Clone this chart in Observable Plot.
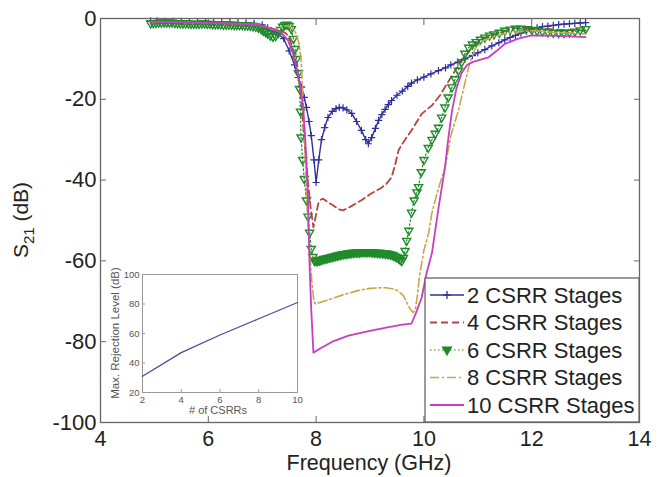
<!DOCTYPE html>
<html><head><meta charset="utf-8">
<script src="https://cdn.jsdelivr.net/npm/d3@7"></script>
<script src="https://cdn.jsdelivr.net/npm/@observablehq/plot@0.6"></script>
<style>
html,body{margin:0;padding:0;background:#fff;}
#wrap{position:relative;width:663px;height:477px;overflow:hidden;background:#fff;}
#wrap svg{position:absolute;}
</style></head><body><div id="wrap"></div>
<script>
// ---- data ----
const seriesNames = ["2 CSRR Stages", "4 CSRR Stages", "6 CSRR Stages", "8 CSRR Stages", "10 CSRR Stages"];
const xTicks = [4, 6, 8, 10, 12, 14];
const yTicks = [-100, -80, -60, -40, -20, 0];

const s21Stages2 = [[4.93,-0.6],[5.05,-0.6],[5.2,-0.7],[5.35,-0.7],[5.5,-0.7],[5.65,-0.8],[5.8,-0.8],[5.95,-0.8],[6.1,-0.9],[6.25,-0.9],
 [6.4,-1.0],[6.55,-1.0],[6.7,-1.1],[6.85,-1.2],[7.0,-1.6],[7.1,-2.3],[7.17,-3.0],[7.25,-3.4],[7.3,-3.8],[7.4,-5.0],
 [7.5,-8.0],[7.6,-11.5],[7.67,-14.6],[7.73,-17],[7.78,-19.5],[7.82,-22],[7.87,-25.5],[7.91,-29],[7.96,-35],[8.0,-40.6],
 [8.05,-35],[8.1,-30],[8.16,-27],[8.22,-24.5],[8.3,-23],[8.37,-22.3],[8.43,-22],[8.5,-22.1],[8.57,-22.6],[8.66,-23.5],
 [8.75,-25.5],[8.84,-27.7],[8.92,-30],[8.97,-31],[9.03,-29.5],[9.1,-27.2],[9.16,-25.2],[9.22,-23.8],[9.28,-22.5],[9.34,-21.3],
 [9.4,-20.3],[9.5,-19],[9.6,-18],[9.7,-16.8],[9.77,-16],[9.88,-15.2],[10.0,-14.5],[10.13,-13.7],[10.27,-12.9],[10.4,-12.2],
 [10.5,-11.5],[10.63,-10.8],[10.76,-10],[10.9,-9.2],[11.0,-8.5],[11.13,-7.7],[11.26,-6.8],[11.39,-6],[11.5,-5.3],[11.6,-4.7],
 [11.7,-4.2],[11.8,-3.6],[11.9,-3.1],[12.0,-2.6],[12.1,-2.3],[12.2,-2.0],[12.3,-1.9],[12.4,-1.7],[12.5,-1.5],[12.6,-1.4],
 [12.7,-1.3],[12.8,-1.2],[12.9,-1.1],[13.0,-1.0]];

const s21Stages4 = [[4.93,-0.8],[5.2,-0.9],[5.5,-1],[5.8,-1],[6.1,-1.1],[6.4,-1.2],[6.7,-1.3],[6.9,-1.4],[7.05,-2],[7.15,-2.7],
 [7.25,-3],[7.35,-3],[7.45,-3.8],[7.52,-5.5],[7.6,-9],[7.66,-13],[7.7,-17],[7.74,-23],[7.78,-30],[7.82,-36],
 [7.86,-42],[7.9,-47],[7.95,-51.7],[8.0,-48.5],[8.04,-45.8],[8.09,-44.8],[8.13,-44.6],[8.22,-45.5],[8.32,-46.3],[8.42,-47.2],
 [8.5,-47.5],[8.65,-46.5],[8.84,-45],[9.0,-43.5],[9.2,-42],[9.3,-41],[9.4,-39.3],[9.47,-36],[9.53,-32.6],[9.65,-30],
 [9.77,-27.7],[9.96,-23.6],[10.15,-21.5],[10.3,-19],[10.5,-14.6],[10.7,-10.5],[10.9,-7],[11.1,-5],[11.4,-3.5],[11.7,-2.4],
 [12.0,-2.3],[12.5,-2.8],[13.0,-3.0]];

const s21Stages6 = [[4.93,-1.2],[4.98,-1.1],[5.03,-1.1],[5.08,-1],[5.13,-1],[5.18,-1],[5.23,-1],[5.28,-1],[5.33,-1],[5.38,-1.1],
 [5.43,-1.1],[5.48,-1.2],[5.53,-1.2],[5.58,-1.2],[5.63,-1.2],[5.68,-1.3],[5.73,-1.3],[5.78,-1.3],[5.83,-1.3],[5.88,-1.2],
 [5.93,-1.2],[5.98,-1.3],[6.03,-1.3],[6.08,-1.4],[6.13,-1.4],[6.18,-1.4],[6.23,-1.4],[6.28,-1.5],[6.33,-1.5],[6.38,-1.5],
 [6.43,-1.5],[6.48,-1.6],[6.53,-1.6],[6.58,-1.6],[6.63,-1.6],[6.68,-1.7],[6.73,-1.7],[6.78,-1.8],[6.83,-1.9],[6.88,-2.0],
 [6.93,-2.3],[6.98,-2.6],[7.02,-3.0],[7.06,-3.3],[7.1,-3.7],[7.15,-4.2],[7.2,-4.5],[7.25,-4.3],[7.3,-3.6],[7.34,-2.8],
 [7.38,-2],[7.42,-1.6],[7.46,-1.5],[7.5,-1.8],[7.54,-2.6],[7.58,-5],[7.61,-7.5],[7.64,-10],[7.67,-13.5],[7.69,-17.4],
 [7.71,-23],[7.72,-29.4],[7.75,-35],[7.78,-39.7],[7.82,-45],[7.85,-49],[7.88,-53],[7.91,-57],[7.94,-59],[7.97,-60],
 [8.0,-60],[8.03,-60],[8.06,-59.9],[8.09,-59.8],[8.12,-59.6],[8.15,-59.5],[8.18,-59.4],[8.21,-59.3],[8.24,-59.2],[8.27,-59.1],
 [8.3,-59],[8.33,-58.9],[8.36,-58.8],[8.39,-58.7],[8.42,-58.6],[8.45,-58.5],[8.48,-58.4],[8.51,-58.3],[8.54,-58.3],[8.57,-58.2],
 [8.6,-58.1],[8.63,-58.1],[8.66,-58],[8.69,-58],[8.72,-57.9],[8.75,-57.9],[8.78,-57.9],[8.81,-57.9],[8.84,-57.8],[8.87,-57.8],
 [8.9,-57.8],[8.93,-57.8],[8.96,-57.8],[8.99,-57.8],[9.02,-57.8],[9.05,-57.9],[9.08,-57.9],[9.11,-57.9],[9.14,-58],[9.17,-58],
 [9.2,-58],[9.23,-58.1],[9.26,-58.1],[9.29,-58.2],[9.32,-58.2],[9.35,-58.3],[9.38,-58.4],[9.41,-58.5],[9.44,-58.7],[9.47,-58.9],
 [9.5,-59.1],[9.53,-59.4],[9.56,-59.7],[9.59,-60],[9.62,-59.2],[9.65,-57.5],[9.68,-55],[9.72,-52.5],[9.77,-48],[9.82,-45],
 [9.87,-43],[9.9,-41.7],[9.95,-38],[10.0,-35],[10.08,-32],[10.15,-30],[10.21,-28.5],[10.27,-27],[10.33,-24.5],[10.39,-22],
 [10.45,-19.5],[10.52,-17],[10.58,-15],[10.64,-12.9],[10.7,-10.8],[10.76,-8.7],[10.83,-7.2],[10.9,-6.4],[10.97,-5.8],[11.05,-5.2],
 [11.13,-4.7],[11.22,-4.2],[11.3,-3.9],[11.4,-3.5],[11.5,-3],[11.6,-2.7],[11.7,-2.5],[11.8,-2.5],[11.9,-2.6],[12.0,-2.8],
 [12.1,-3],[12.2,-3.2],[12.3,-3.4],[12.4,-3.5],[12.5,-3.6],[12.6,-3.6],[12.7,-3.4],[12.8,-3.2],[12.9,-2.9],[13.0,-2.6]];

const s21Stages8 = [[4.93,-0.8],[5.3,-0.9],[5.7,-1],[6.1,-1.1],[6.5,-1.3],[6.9,-1.5],[7.05,-2],[7.15,-2.5],[7.22,-2.8],[7.32,-2.3],
 [7.45,-1.8],[7.55,-2.2],[7.62,-3.5],[7.68,-6],[7.72,-10],[7.76,-20],[7.8,-35],[7.84,-48],[7.88,-58],[7.92,-65],
 [7.95,-69],[7.98,-70.6],[8.1,-70.2],[8.3,-69.3],[8.5,-68.4],[8.79,-67.3],[9.0,-66.8],[9.27,-66.6],[9.45,-67],[9.53,-67.5],
 [9.62,-68.6],[9.68,-70.2],[9.74,-71.8],[9.8,-72.8],[9.84,-72.2],[9.88,-68.5],[9.92,-63.5],[10.0,-57.4],[10.09,-53],[10.15,-48],
 [10.27,-42],[10.39,-37],[10.5,-29],[10.64,-22.8],[10.76,-16],[10.85,-11],[10.95,-7.5],[11.1,-5.5],[11.3,-4.5],[11.6,-3.5],
 [12.0,-3],[12.5,-3.5],[13.0,-3.8]];

const s21Stages10 = [[4.93,-0.8],[5.3,-0.9],[5.7,-1],[6.1,-1.1],[6.5,-1.3],[6.9,-1.5],[7.05,-2],[7.2,-2.5],[7.35,-3.5],[7.48,-5.4],
 [7.58,-9],[7.63,-12],[7.7,-16],[7.76,-22],[7.8,-30],[7.83,-38],[7.85,-45],[7.88,-61.6],[7.91,-72],[7.95,-82.7],
 [8.1,-81.5],[8.3,-80],[8.6,-78.5],[9.0,-77.3],[9.3,-76.5],[9.6,-75.8],[9.77,-75.5],[9.85,-73],[9.96,-69],[10.05,-63],
 [10.15,-58],[10.27,-47],[10.39,-37],[10.45,-30],[10.52,-23],[10.6,-17.5],[10.7,-13.5],[10.8,-11.5],[10.9,-10.8],[11.05,-10.2],
 [11.2,-9.6],[11.35,-8],[11.5,-6.3],[11.75,-5],[12.0,-4.2],[12.5,-4.3],[13.0,-4.6]];

// inset: maximum rejection level vs number of CSRRs
const insetStages = [2, 4, 6, 8, 10];
const insetRejection = [31, 47, 59, 70, 81];
const insetXTicks = [2, 4, 6, 8, 10];
const insetYTicks = [20, 40, 60, 80, 100];

// ---- styles ----
const font = "'Liberation Sans', Arial, Helvetica, sans-serif";
const colors = ["#30309c", "#b5443f", "#1f8a2a", "#c9a54b", "#c63fc3"];
const dashes = [null, "7,4", "1.5,2.5", "9,3,2,3", null];
const widths = [1.4, 1.8, 1.2, 1.6, 1.8];

const sqrt3 = Math.sqrt(3);
const triDown = {draw(ctx, size) {
  const y = Math.sqrt(size / (sqrt3 * 3));
  ctx.moveTo(0, y * 2); ctx.lineTo(-sqrt3 * y, -y); ctx.lineTo(sqrt3 * y, -y); ctx.closePath();
}};
const plusSym = {draw(ctx, size) {
  const r = Math.sqrt(size / Math.PI);
  ctx.moveTo(-r, 0); ctx.lineTo(r, 0); ctx.moveTo(0, -r); ctx.lineTo(0, r);
}};

const allSeries = [s21Stages2, s21Stages4, s21Stages6, s21Stages8, s21Stages10]
  .map((pts, i) => pts.map(([f, v]) => ({f, v, i})));

const lineMarks = [];
allSeries.forEach((d, i) => {
  lineMarks.push(Plot.line(d, {x: "f", y: "v", stroke: colors[i], strokeWidth: widths[i], strokeDasharray: dashes[i]}));
  if (i === 0) lineMarks.push(Plot.dot(d, {x: "f", y: "v", symbol: plusSym, r: 3.6, stroke: colors[i], fill: "none", strokeWidth: 1.2}));
  if (i === 2) lineMarks.push(Plot.dot(d, {x: "f", y: "v", symbol: triDown, r: 3.0, stroke: colors[i], fill: "none", strokeWidth: 1.4}));
});

const fmt = d => String(d);
const main = Plot.plot({
  width: 663, height: 477,
  marginLeft: 100, marginRight: 24, marginTop: 18, marginBottom: 55,
  style: {fontFamily: font, background: "white", color: "#222", overflow: "visible"},
  x: {domain: [4, 14]},
  y: {domain: [-100, 0]},
  marks: [
    ...lineMarks,
    Plot.frame({stroke: "#666", strokeWidth: 1.3}),
    Plot.axisX(xTicks, {anchor: "bottom", tickSize: -6, tickPadding: 14, fontSize: 21.5, tickFormat: fmt, label: null, stroke: "#666"}),
    Plot.axisX(xTicks, {anchor: "top", tickSize: -6, tickFormat: () => "", label: null, stroke: "#666"}),
    Plot.axisY(yTicks, {anchor: "left", tickSize: -6, tickPadding: 10, fontSize: 22, tickFormat: fmt, label: null, stroke: "#666"}),
    Plot.axisY(yTicks, {anchor: "right", tickSize: -6, tickFormat: () => "", label: null, stroke: "#666"})
  ]
});
document.getElementById("wrap").appendChild(main);

const svg = d3.select(main);
// axis titles
svg.append("text").attr("x", 369).attr("y", 470).attr("text-anchor", "middle")
  .attr("font-family", font).attr("font-size", 21.5).attr("fill", "#222").text("Frequency (GHz)");
const yl = svg.append("text").attr("transform", "translate(28,220) rotate(-90)").attr("text-anchor", "middle")
  .attr("font-family", font).attr("font-size", 21).attr("fill", "#222");
yl.append("tspan").text("S");
yl.append("tspan").attr("font-size", 15).attr("dy", 6).text("21");
yl.append("tspan").attr("dy", -6).text(" (dB)");

// legend
const lg = svg.append("g").attr("font-family", font).attr("text-anchor", "start");
lg.append("rect").attr("x", 425).attr("y", 278).attr("width", 214).attr("height", 144)
  .attr("fill", "white").attr("stroke", "#666").attr("stroke-width", 1.3);
seriesNames.forEach((name, i) => {
  const cy = 295 + i * 27.5;
  lg.append("line").attr("x1", 430).attr("x2", 464).attr("y1", cy).attr("y2", cy)
    .attr("stroke", colors[i]).attr("stroke-width", widths[i]).attr("stroke-dasharray", dashes[i]);
  if (i === 0) lg.append("path").attr("transform", `translate(447,${cy})`).attr("d", "M-4,0H4M0,-4V4")
    .attr("stroke", colors[i]).attr("stroke-width", 1.3).attr("fill", "none");
  if (i === 2) lg.append("path").attr("transform", `translate(447,${cy})`).attr("d", "M-4.5,-3H4.5L0,5Z")
    .attr("stroke", colors[i]).attr("stroke-width", 1.2).attr("fill", colors[i]);
  lg.append("text").attr("x", 467).attr("y", cy).attr("dy", "0.36em").attr("text-anchor", "start")
    .attr("font-size", 22).attr("fill", "#222").text(name);
});

// inset
const insetData = insetStages.map((n, k) => ({n, r: insetRejection[k]}));
const inset = Plot.plot({
  width: 200, height: 156,
  marginLeft: 42, marginRight: 3, marginTop: 10, marginBottom: 28,
  style: {fontFamily: font, background: "transparent", color: "#555", overflow: "visible"},
  x: {domain: [2, 10]},
  y: {domain: [20, 100]},
  marks: [
    Plot.frame({fill: "white", stroke: "#999"}),
    Plot.axisX(insetXTicks, {anchor: "bottom", tickSize: -3, tickPadding: 7, fontSize: 9.5, tickFormat: fmt, label: null, stroke: "#999"}),
    Plot.axisY(insetYTicks, {anchor: "left", tickSize: -3, tickPadding: 6, fontSize: 9.5, tickFormat: fmt, label: null, stroke: "#999"}),
    Plot.line(insetData, {x: "n", y: "r", stroke: "#4a4a9c", strokeWidth: 1.3})
  ]
});
inset.style.left = "100px";
inset.style.top = "264px";
document.getElementById("wrap").appendChild(inset);
const isvg = d3.select(inset);
isvg.append("text").attr("x", 118).attr("y", 150).attr("text-anchor", "middle")
  .attr("font-family", font).attr("font-size", 11).attr("fill", "#555").text("# of CSRRs");
isvg.append("text").attr("transform", "translate(19,69) rotate(-90)").attr("text-anchor", "middle")
  .attr("font-family", font).attr("font-size", 11.5).attr("fill", "#555").text("Max. Rejection Level (dB)");
</script>
</body></html>
